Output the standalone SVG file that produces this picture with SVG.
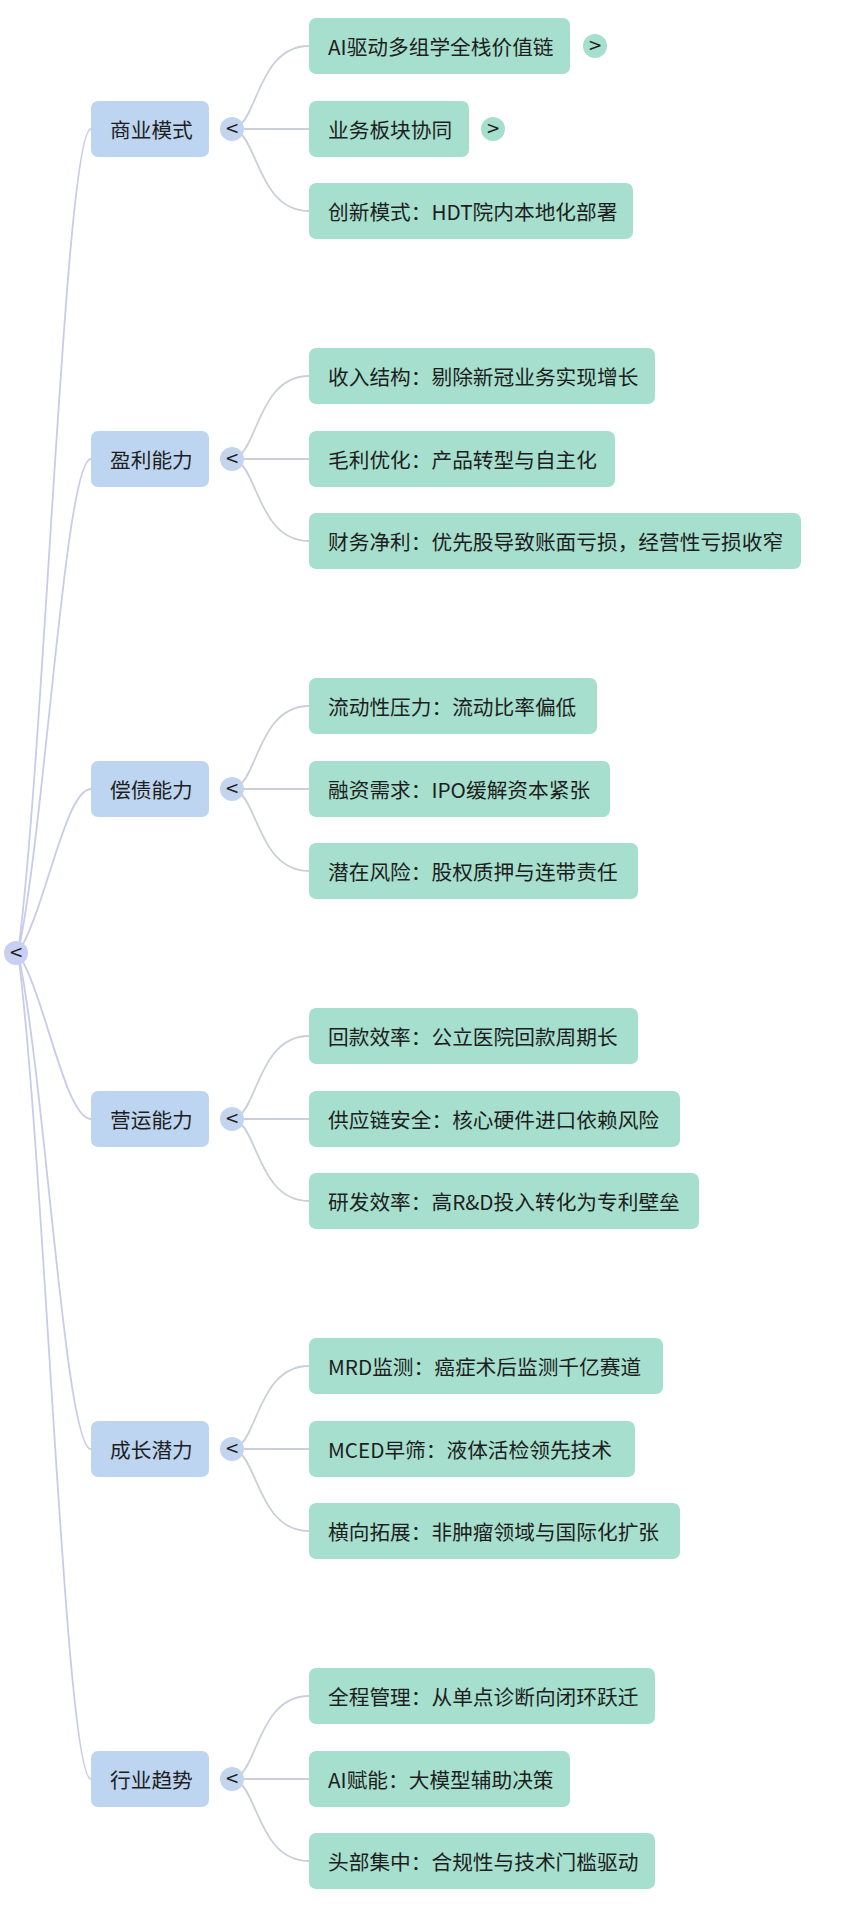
<svg xmlns="http://www.w3.org/2000/svg" width="845" height="1912" viewBox="0 0 845 1912">
<style>
text{font-family:"Noto Sans CJK SC","Noto Sans",sans-serif;fill:#1e1e1e;dominant-baseline:central}
.lbl{font-size:20.7px}
.l1 rect{fill:#bdd5f0}
.l2 rect{fill:#a6dfcd}
.tog{fill:#c3d4ef}
.exp{fill:#a6dfcd}
.chev{font-size:17px;text-anchor:middle;font-family:"DejaVu Sans",sans-serif}
.main{fill:none;stroke:#c9cbea;stroke-width:1.8}
.sub{fill:none;stroke:#cbcfd8;stroke-width:1.8}
</style>
<rect width="845" height="1912" fill="#ffffff"/>
<g id="connectors">
<path class="main" d="M18 953 C45 747,65 129,91 129"/>
<path class="main" d="M18 953 C45 830,65 459,91 459"/>
<path class="main" d="M18 953 C45 912,65 789,91 789"/>
<path class="main" d="M18 953 C45 994,65 1119,91 1119"/>
<path class="main" d="M18 953 C45 1077,65 1449,91 1449"/>
<path class="main" d="M18 953 C45 1160,65 1779,91 1779"/>
<path class="sub" d="M240 125 C258 110,262 46,309 46"/><path class="sub" d="M244 129 H309"/><path class="sub" d="M240 133 C258 148,262 211,309 211"/>
<path class="sub" d="M240 455 C258 440,262 376,309 376"/><path class="sub" d="M244 459 H309"/><path class="sub" d="M240 463 C258 478,262 541,309 541"/>
<path class="sub" d="M240 785 C258 770,262 706,309 706"/><path class="sub" d="M244 789 H309"/><path class="sub" d="M240 793 C258 808,262 871,309 871"/>
<path class="sub" d="M240 1115 C258 1100,262 1036,309 1036"/><path class="sub" d="M244 1119 H309"/><path class="sub" d="M240 1123 C258 1138,262 1201,309 1201"/>
<path class="sub" d="M240 1445 C258 1430,262 1366,309 1366"/><path class="sub" d="M244 1449 H309"/><path class="sub" d="M240 1453 C258 1468,262 1531,309 1531"/>
<path class="sub" d="M240 1775 C258 1760,262 1696,309 1696"/><path class="sub" d="M244 1779 H309"/><path class="sub" d="M240 1783 C258 1798,262 1861,309 1861"/>
</g>
<g id="root"><circle cx="16" cy="953" r="12" fill="#c9cff2"/><text class="chev" x="16" y="952">&lt;</text></g>

<g id="n1" class="l1"><rect x="91" y="101" width="118" height="56" rx="7"/><text class="lbl" x="110" y="129">商业模式</text><circle class="tog" cx="232" cy="129" r="12"/><text class="chev" x="232" y="128">&lt;</text></g>
<g id="n1a" class="l2"><rect x="309" y="18" width="261" height="56" rx="7"/><text class="lbl" x="328" y="46">AI驱动多组学全栈价值链</text><circle class="exp" cx="595" cy="46" r="12"/><text class="chev" x="595" y="45">&gt;</text></g>
<g id="n1b" class="l2"><rect x="309" y="101" width="160" height="56" rx="7"/><text class="lbl" x="328" y="129">业务板块协同</text><circle class="exp" cx="493" cy="129" r="12"/><text class="chev" x="493" y="128">&gt;</text></g>
<g id="n1c" class="l2"><rect x="309" y="183" width="324" height="56" rx="7"/><text class="lbl" x="328" y="211">创新模式：HDT院内本地化部署</text></g>

<g id="n2" class="l1"><rect x="91" y="431" width="118" height="56" rx="7"/><text class="lbl" x="110" y="459">盈利能力</text><circle class="tog" cx="232" cy="459" r="12"/><text class="chev" x="232" y="458">&lt;</text></g>
<g id="n2a" class="l2"><rect x="309" y="348" width="346" height="56" rx="7"/><text class="lbl" x="328" y="376">收入结构：剔除新冠业务实现增长</text></g>
<g id="n2b" class="l2"><rect x="309" y="431" width="306" height="56" rx="7"/><text class="lbl" x="328" y="459">毛利优化：产品转型与自主化</text></g>
<g id="n2c" class="l2"><rect x="309" y="513" width="492" height="56" rx="7"/><text class="lbl" x="328" y="541">财务净利：优先股导致账面亏损，经营性亏损收窄</text></g>

<g id="n3" class="l1"><rect x="91" y="761" width="118" height="56" rx="7"/><text class="lbl" x="110" y="789">偿债能力</text><circle class="tog" cx="232" cy="789" r="12"/><text class="chev" x="232" y="788">&lt;</text></g>
<g id="n3a" class="l2"><rect x="309" y="678" width="288" height="56" rx="7"/><text class="lbl" x="328" y="706">流动性压力：流动比率偏低</text></g>
<g id="n3b" class="l2"><rect x="309" y="761" width="301" height="56" rx="7"/><text class="lbl" x="328" y="789">融资需求：IPO缓解资本紧张</text></g>
<g id="n3c" class="l2"><rect x="309" y="843" width="329" height="56" rx="7"/><text class="lbl" x="328" y="871">潜在风险：股权质押与连带责任</text></g>

<g id="n4" class="l1"><rect x="91" y="1091" width="118" height="56" rx="7"/><text class="lbl" x="110" y="1119">营运能力</text><circle class="tog" cx="232" cy="1119" r="12"/><text class="chev" x="232" y="1118">&lt;</text></g>
<g id="n4a" class="l2"><rect x="309" y="1008" width="329" height="56" rx="7"/><text class="lbl" x="328" y="1036">回款效率：公立医院回款周期长</text></g>
<g id="n4b" class="l2"><rect x="309" y="1091" width="371" height="56" rx="7"/><text class="lbl" x="328" y="1119">供应链安全：核心硬件进口依赖风险</text></g>
<g id="n4c" class="l2"><rect x="309" y="1173" width="390" height="56" rx="7"/><text class="lbl" x="328" y="1201">研发效率：高R&amp;D投入转化为专利壁垒</text></g>

<g id="n5" class="l1"><rect x="91" y="1421" width="118" height="56" rx="7"/><text class="lbl" x="110" y="1449">成长潜力</text><circle class="tog" cx="232" cy="1449" r="12"/><text class="chev" x="232" y="1448">&lt;</text></g>
<g id="n5a" class="l2"><rect x="309" y="1338" width="354" height="56" rx="7"/><text class="lbl" x="328" y="1366">MRD监测：癌症术后监测千亿赛道</text></g>
<g id="n5b" class="l2"><rect x="309" y="1421" width="326" height="56" rx="7"/><text class="lbl" x="328" y="1449">MCED早筛：液体活检领先技术</text></g>
<g id="n5c" class="l2"><rect x="309" y="1503" width="371" height="56" rx="7"/><text class="lbl" x="328" y="1531">横向拓展：非肿瘤领域与国际化扩张</text></g>

<g id="n6" class="l1"><rect x="91" y="1751" width="118" height="56" rx="7"/><text class="lbl" x="110" y="1779">行业趋势</text><circle class="tog" cx="232" cy="1779" r="12"/><text class="chev" x="232" y="1778">&lt;</text></g>
<g id="n6a" class="l2"><rect x="309" y="1668" width="346" height="56" rx="7"/><text class="lbl" x="328" y="1696">全程管理：从单点诊断向闭环跃迁</text></g>
<g id="n6b" class="l2"><rect x="309" y="1751" width="261" height="56" rx="7"/><text class="lbl" x="328" y="1779">AI赋能：大模型辅助决策</text></g>
<g id="n6c" class="l2"><rect x="309" y="1833" width="346" height="56" rx="7"/><text class="lbl" x="328" y="1861">头部集中：合规性与技术门槛驱动</text></g>
</svg>
